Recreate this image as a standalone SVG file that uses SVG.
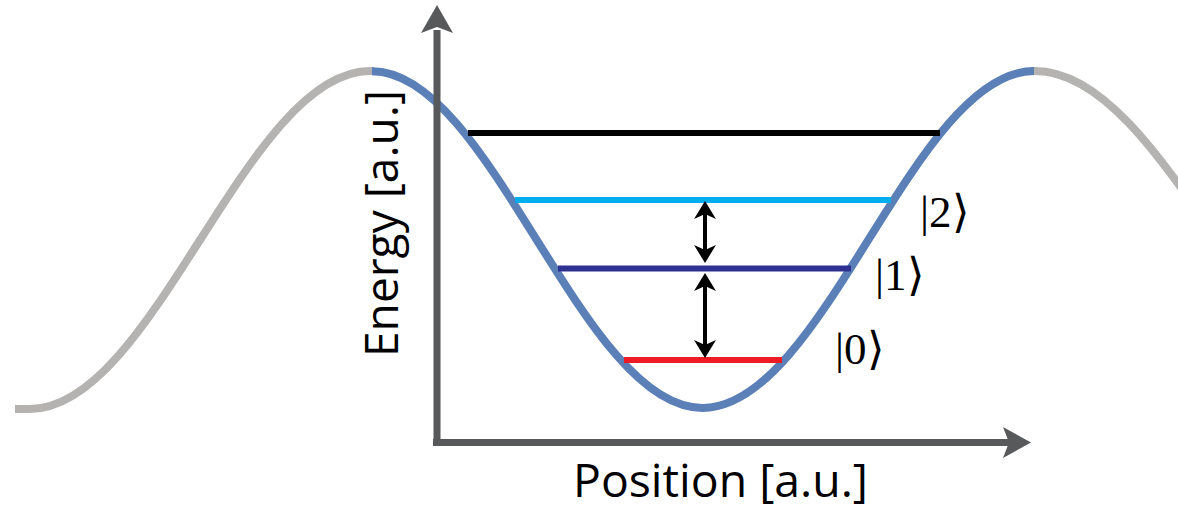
<svg xmlns="http://www.w3.org/2000/svg" width="1178" height="510" viewBox="0 0 1178 510">
<style>
.gray{fill:none;stroke:#b4b3b1;stroke-width:8}
.blue{fill:none;stroke:#5b7fb7;stroke-width:8}
.axis{fill:none;stroke:#58595b;stroke-width:7}
.axhead{fill:#58595b}
.lvl{stroke-width:6;fill:none}
.arr{stroke:#000;stroke-width:4}
.ah{fill:#000}
.ket{font-family:"Liberation Serif",serif;font-size:45px;fill:#000}
.lab{font-family:"Open Sans","Liberation Sans",sans-serif;font-size:46px;fill:#000}
</style>
<g id="potential">
<path class="gray" d="M15,409 L30,409 C154,409 246,71 370,71 L374,71"/>
<path class="gray" d="M1031,71 L1035,71 C1168,71 1267,409 1400,409"/>
<path class="blue" d="M372,71.2 C491,71 581.5,408 702.5,408 C823.5,408 914,71 1034,71"/>
</g>
<g id="axes">
<path class="axis" d="M437,446 V30 M433,442.5 H1010"/>
<polygon class="axhead" points="437,5 453,33 437,27 421,33"/>
<polygon class="axhead" points="1031,442.5 1003,427 1009,442.5 1003,458"/>
</g>
<g id="levels">
<line class="lvl" x1="468" y1="133" x2="940" y2="133" stroke="#000"/>
<line class="lvl" x1="515" y1="200" x2="891" y2="200" stroke="#00aeef"/>
<line class="lvl" x1="558" y1="268.5" x2="851" y2="268.5" stroke="#2e3192"/>
<line class="lvl" x1="624" y1="360" x2="782" y2="360" stroke="#ed1c24"/>
</g>
<g id="connectors">
<line class="arr" x1="705" y1="212" x2="705" y2="252"/>
<polygon class="ah" points="705,201 716,219 705,214 694,219"/>
<polygon class="ah" points="705,263 716,245 705,250 694,245"/>
<line class="arr" x1="705" y1="284" x2="705" y2="346"/>
<polygon class="ah" points="705,273 716,291 705,286 694,291"/>
<polygon class="ah" points="705,358 716,340 705,345 694,340"/>
</g>
<g id="kets">
<text class="ket" x="920" y="227">|2⟩</text>
<text class="ket" x="875" y="290">|1⟩</text>
<text class="ket" x="835" y="364">|0⟩</text>
</g>
<g id="labels">
<text class="lab" transform="translate(398,357) rotate(-90)" textLength="267" lengthAdjust="spacingAndGlyphs">Energy [a.u.]</text>
<text class="lab" x="573" y="497" textLength="295" lengthAdjust="spacingAndGlyphs">Position [a.u.]</text>
</g>
</svg>
